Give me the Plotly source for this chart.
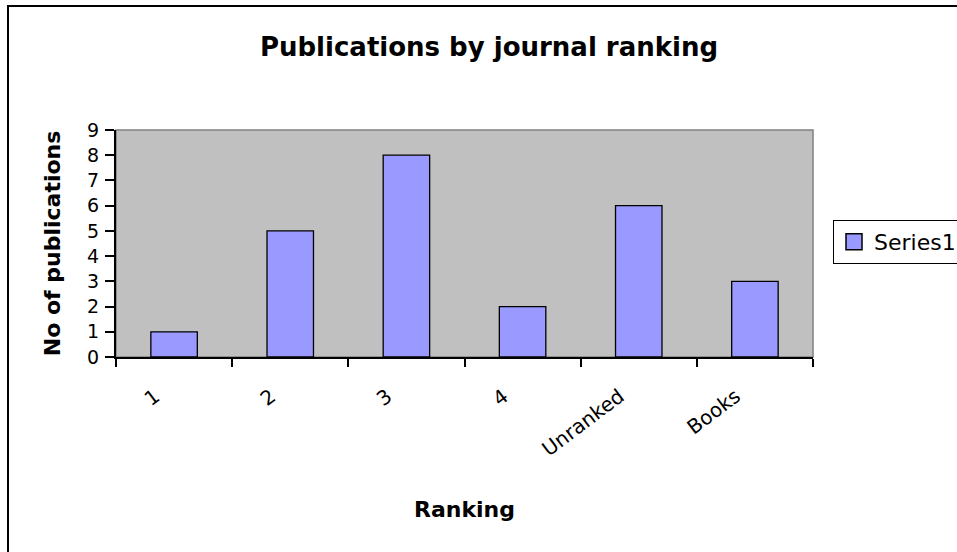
import plotly.graph_objects as go

categories = ["1", "2", "3", "4", "Unranked", "Books"]
values = [1, 5, 8, 2, 6, 3]
series_name = "Series1"
y_ticks = list(range(0, 10))

FONT = "'DejaVu Sans', Arial, sans-serif"
BAR_COLOR = "#9999FF"
W, H = 957, 552
L, R, T, B = 116, 957 - 813, 130, 552 - 357
PW, PH = W - L - R, H - T - B

def px_x(px):
    return (px - L) / PW

def px_y(py):
    return (H - B - py) / PH

fig = go.Figure()
fig.add_trace(go.Bar(
    x=categories, y=values, name=series_name, width=0.4,
    marker=dict(color=BAR_COLOR, line=dict(color="black", width=1.3)),
    showlegend=False,
))
# legend entry (square swatch like the original)
fig.add_trace(go.Scatter(
    x=[None], y=[None], mode="markers", name=series_name,
    marker=dict(symbol="square", size=16, color=BAR_COLOR,
                line=dict(color="black", width=1.5)),
    showlegend=True, hoverinfo="skip",
))

fig.update_layout(
    width=W, height=H,
    margin=dict(l=L, r=R, t=T, b=B, autoexpand=False),
    paper_bgcolor="white",
    plot_bgcolor="#C0C0C0",
    font=dict(family=FONT, color="black", size=19),
    title=dict(text="<b>Publications by journal ranking</b>", font=dict(size=26),
               x=489 / W, xanchor="center", y=1 - 47 / H, yanchor="middle"),
    showlegend=True,
    legend=dict(x=px_x(833), xanchor="left", y=px_y(242), yanchor="middle",
                bordercolor="black", borderwidth=1, bgcolor="white",
                font=dict(size=22), itemwidth=30),
    bargap=0.6,
)

fig.update_xaxes(
    type="category", tickson="boundaries", ticks="outside", ticklen=8, tickwidth=1.5,
    tickcolor="black", showline=True, linecolor="black", linewidth=2,
    tickangle=-37, tickfont=dict(size=20), showgrid=False,
    ticklabelstandoff=18, ticklabelshift=-19,
    title=dict(text="<b>Ranking</b>", font=dict(size=22), standoff=42),
)
fig.update_yaxes(
    range=[0, 9], tickvals=y_ticks, ticks="outside", ticklen=9, tickwidth=1.5,
    tickcolor="black", showline=True, linecolor="black", linewidth=2,
    showgrid=False, zeroline=False, tickfont=dict(size=19),
    ticklabelstandoff=2,
    title=dict(text="<b>No of publications</b>", font=dict(size=22), standoff=20),
)

# grey top/right plot-area border
fig.add_shape(type="rect", xref="paper", yref="paper", x0=0, y0=0, x1=1, y1=1,
              line=dict(color="#808080", width=1.5), layer="below")
# outer chart-area frame (top and left edges visible)
fig.add_shape(type="rect", xref="paper", yref="paper",
              x0=px_x(8), y0=px_y(600), x1=px_x(1000), y1=px_y(6),
              line=dict(color="black", width=2))

fig.write_html("out.html")
